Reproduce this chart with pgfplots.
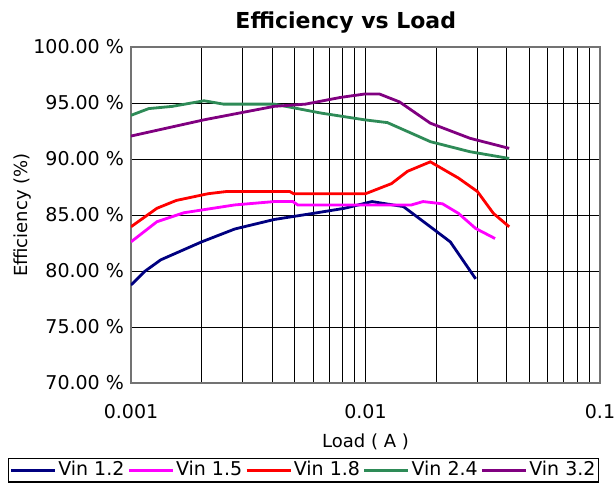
\documentclass[border=0pt]{standalone}
\usepackage{fontspec}
\setmainfont{DejaVu Sans}
\usepackage{pgfplots}
\pgfplotsset{compat=1.18}
\definecolor{vnavy}{RGB}{0,0,128}
\definecolor{vmag}{RGB}{255,0,255}
\definecolor{vred}{RGB}{255,0,0}
\definecolor{vgreen}{RGB}{46,139,87}
\definecolor{vpurple}{RGB}{128,0,128}

\begin{document}
\begin{tikzpicture}
\begin{axis}[
  scale only axis,
  width=234.5pt, height=168pt,
  xmode=log,
  xmin=0.001, xmax=0.1,
  ymin=70, ymax=100,
  xtick={0.001,0.01,0.1},
  xticklabels={0.001,0.01,0.1},
  ytick={70,75,80,85,90,95,100},
  yticklabels={70.00 \%,75.00 \%,80.00 \%,85.00 \%,90.00 \%,95.00 \%,100.00 \%},
  grid=both,
  major grid style={black, line width=0.5pt},
  minor grid style={black, line width=0.5pt},
  major tick length=0pt, minor tick length=0pt,
  axis line style={black!55, line width=0.7pt},
  tick label style={font=\fontsize{9.5}{11}\selectfont},
  xticklabel style={yshift=-7pt},
  title={Efficiency vs Load},
  title style={font=\bfseries\fontsize{11}{13}\selectfont, at={(0.458,1)}, anchor=base, yshift=3.5pt},
  xlabel={Load ( A )},
  xlabel style={font=\fontsize{9}{11}\selectfont, at={(axis description cs:0.5,0)}, anchor=base, yshift=-32pt},
  ylabel={Efficiency (\%)},
  ylabel style={font=\fontsize{9}{11}\selectfont, at={(axis description cs:-0.232,0.5)}, anchor=center},
  legend columns=5,
  legend style={at={(-0.262,-0.223)}, anchor=north west, draw=black, line width=0.6pt,
    font=\fontsize{9.5}{11}\selectfont, inner sep=0.5pt,
    nodes={inner sep=1pt},
    /tikz/every even column/.append style={column sep=0.5pt}},
  legend image code/.code={\draw[#1, line width=1.3pt] (0pt,0pt) -- (22pt,0pt);},
  every axis plot/.append style={line width=1.4pt},
]
  % Vin 1.2
  \addplot[vnavy] coordinates {(0.001,78.75)(0.00115,80.0)(0.00134,81.0)(0.002,82.6)(0.00277,83.75)(0.00408,84.6)(0.0060,85.15)(0.00814,85.6)(0.01066,86.2)(0.01452,85.75)(0.0189,83.95)(0.0230,82.6)(0.0295,79.3)};
  \addlegendentry{Vin 1.2}
  % Vin 1.5
  \addplot[vmag] coordinates {(0.001,82.6)(0.00129,84.4)(0.00168,85.2)(0.00277,85.9)(0.00408,86.2)(0.0049,86.2)(0.00514,85.9)(0.0157,85.9)(0.0176,86.2)(0.0213,86.0)(0.0249,85.15)(0.0295,83.8)(0.0357,82.9)};
  \addlegendentry{Vin 1.5}
  % Vin 1.8
  \addplot[vred] coordinates {(0.001,83.95)(0.00129,85.6)(0.00156,86.3)(0.00213,86.9)(0.00256,87.1)(0.00475,87.1)(0.00494,86.9)(0.0100,86.9)(0.0129,87.8)(0.0151,88.9)(0.0189,89.75)(0.0249,88.3)(0.030,87.1)(0.0351,85.15)(0.041,83.95)};
  \addlegendentry{Vin 1.8}
  % Vin 2.4
  \addplot[vgreen] coordinates {(0.001,93.9)(0.00119,94.5)(0.0015,94.7)(0.00205,95.2)(0.00248,94.9)(0.00408,94.9)(0.00514,94.5)(0.00647,94.1)(0.0099,93.5)(0.0124,93.25)(0.0157,92.3)(0.0189,91.55)(0.0279,90.65)(0.041,90.05)};
  \addlegendentry{Vin 2.4}
  % Vin 3.2
  \addplot[vpurple] coordinates {(0.001,92.05)(0.00205,93.5)(0.00408,94.7)(0.00555,94.9)(0.00783,95.5)(0.0099,95.8)(0.01148,95.8)(0.01396,95.1)(0.0189,93.2)(0.0279,91.85)(0.041,90.95)};
  \addlegendentry{Vin 3.2}
\end{axis}
\pgfresetboundingbox
\useasboundingbox (-65.5pt,-50.5pt) rectangle (242pt,191.5pt);
\end{tikzpicture}
\end{document}
